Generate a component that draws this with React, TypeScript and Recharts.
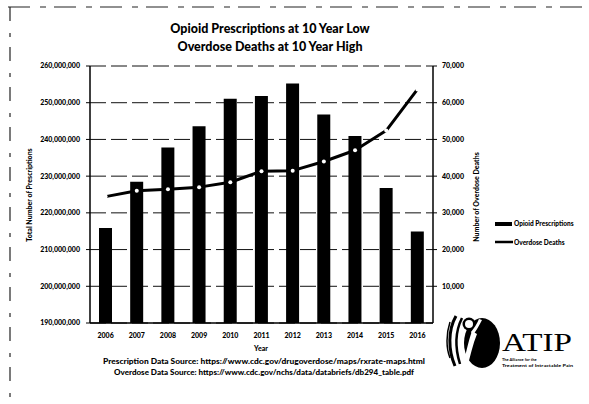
import { ComposedChart, Bar, Line, XAxis, YAxis, CartesianGrid } from "recharts";

// Years shown on the category axis
const years = ["2006", "2007", "2008", "2009", "2010", "2011", "2012", "2013", "2014", "2015", "2016"];

// Total opioid prescriptions dispensed (retail), per year
const prescriptions = [
    215900000, 228500000, 237800000, 243600000, 251100000, 251800000,
    255200000, 246800000, 240900000, 226800000, 214900000,
];

// Drug overdose deaths, per year
const overdoseDeaths = [34425, 36010, 36450, 37004, 38329, 41340, 41502, 43982, 47055, 52404, 63632];

const leftTicks = [190000000, 200000000, 210000000, 220000000, 230000000, 240000000, 250000000, 260000000];
const rightTicks = [10000, 20000, 30000, 40000, 50000, 60000, 70000];

const FONT = "Lato, 'Open Sans', sans-serif";

const data = years.map((year, i) => ({
    year,
    prescriptions: prescriptions[i],
    deaths: overdoseDeaths[i],
}));

const fmt = (v: number) => v.toLocaleString("en-US");

const tickStyle = { fontSize: 7, fontWeight: 900, fill: "#000", fontFamily: FONT };

export default function App() {
    return (
        <div style={{ position: "absolute", left: 0, top: 0, width: 589, height: 404, background: "#fff", fontFamily: FONT }}>
            <ComposedChart
                width={589}
                height={404}
                data={data}
                margin={{ top: 66, right: 100, bottom: 61, left: 40 }}
            >
                <CartesianGrid
                    yAxisId="left"
                    vertical={false}
                    stroke="#111"
                    strokeWidth={1}
                    strokeDasharray="16 5"
                />
                <XAxis
                    dataKey="year"
                    height={20}
                    tick={tickStyle}
                    tickLine={false}
                    axisLine={{ stroke: "#000", strokeWidth: 1.5 }}
                    tickMargin={4}
                />
                <YAxis
                    yAxisId="left"
                    width={50}
                    domain={[190000000, 260000000]}
                    ticks={leftTicks}
                    tickFormatter={fmt}
                    tick={tickStyle}
                    tickSize={4}
                    tickMargin={6}
                    stroke="#000"
                    axisLine={{ stroke: "#000", strokeWidth: 1.5 }}
                    allowDataOverflow
                />
                <YAxis
                    yAxisId="right"
                    orientation="right"
                    width={56}
                    domain={[0, 70000]}
                    ticks={rightTicks}
                    tickFormatter={fmt}
                    tick={tickStyle}
                    tickSize={4}
                    tickMargin={5}
                    stroke="#000"
                    axisLine={{ stroke: "#000", strokeWidth: 1.5 }}
                />
                <Bar
                    yAxisId="left"
                    dataKey="prescriptions"
                    name="Opioid Prescriptions"
                    fill="#000"
                    barSize={13}
                    isAnimationActive={false}
                />
                <Line
                    yAxisId="right"
                    dataKey="deaths"
                    name="Overdose Deaths"
                    type="linear"
                    stroke="#000"
                    strokeWidth={3}
                    strokeLinejoin="round"
                    dot={{ r: 2, fill: "#fff", stroke: "none" }}
                    isAnimationActive={false}
                />
            </ComposedChart>

            <svg width={589} height={404} style={{ position: "absolute", left: 0, top: 0, pointerEvents: "none" }}>
                {/* frame edges */}
                <line x1={8} y1={7} x2={586} y2={7} stroke="#222" strokeWidth={1.2} strokeDasharray="22 10 6 8" />
                <line x1={10} y1={7} x2={10} y2={400} stroke="#222" strokeWidth={1.2} strokeDasharray="14 12 4 10" />

                <g fontFamily={FONT} fontWeight={900} fill="#000" textAnchor="middle">
                    <text x={270} y={33} fontSize={12.5}>Opioid Prescriptions at 10 Year Low</text>
                    <text x={270} y={51} fontSize={12.5}>Overdose Deaths at 10 Year High</text>

                    <text transform="translate(32,195) rotate(-90)" fontSize={7}>Total Number of Prescriptions</text>
                    <text transform="translate(479,197) rotate(-90)" fontSize={7}>Number of Overdose Deaths</text>

                    <text x={261} y={351} fontSize={7}>Year</text>
                    <text x={264} y={364} fontSize={6.5} textLength={322} lengthAdjust="spacingAndGlyphs">
                        Prescription Data Source:  https://www.cdc.gov/drugoverdose/maps/rxrate-maps.html
                    </text>
                    <text x={264} y={375} fontSize={6.5} textLength={300} lengthAdjust="spacingAndGlyphs">
                        Overdose Data Source:  https://www.cdc.gov/nchs/data/databriefs/db294_table.pdf
                    </text>
                </g>

                {/* legend */}
                <rect x={495} y={222} width={17} height={4} fill="#000" />
                <text x={514} y={226} fontSize={6.5} fontWeight={900} fontFamily={FONT}>Opioid Prescriptions</text>
                <line x1={495} y1={242} x2={513} y2={242} stroke="#000" strokeWidth={2.5} />
                <text x={514} y={244.5} fontSize={6.5} fontWeight={900} fontFamily={FONT}>Overdose Deaths</text>

                {/* ATIP logo */}
                <g>
                    <ellipse cx={482} cy={343} rx={18} ry={25} fill="#000" />
                    <circle cx={469} cy={324} r={6.5} fill="#000" />
                    <path d="M472 331 C468 342 466 354 462 369 L467 369 C470 356 473 344 477 334 Z" fill="#fff" />
                    <path d="M471 332 C474 328 477 324 479 319 L482 320 C479 326 476 331 473 335 Z" fill="#fff" />
                    <circle cx={469} cy={324} r={4} fill="#fff" />
                    <path d="M456 316 C448 330 448 350 455 366" fill="none" stroke="#000" strokeWidth={3} />
                    <path d="M462 318 C455 332 455 348 460 364" fill="none" stroke="#000" strokeWidth={2.5} />
                    <path d="M450 322 C446 334 446 348 450 358" fill="none" stroke="#000" strokeWidth={1.5} />
                    <text x={502} y={351} fontSize={26} fontFamily="'Liberation Serif', 'DejaVu Serif', serif" textLength={70} lengthAdjust="spacingAndGlyphs">ATIP</text>
                    <text x={502} y={361} fontSize={4} fontWeight={700} fontFamily={FONT}>The Alliance for the</text>
                    <text x={502} y={367} fontSize={4} fontWeight={700} fontFamily={FONT} textLength={71} lengthAdjust="spacingAndGlyphs">Treatment of Intractable Pain</text>
                </g>
            </svg>
        </div>
    );
}
